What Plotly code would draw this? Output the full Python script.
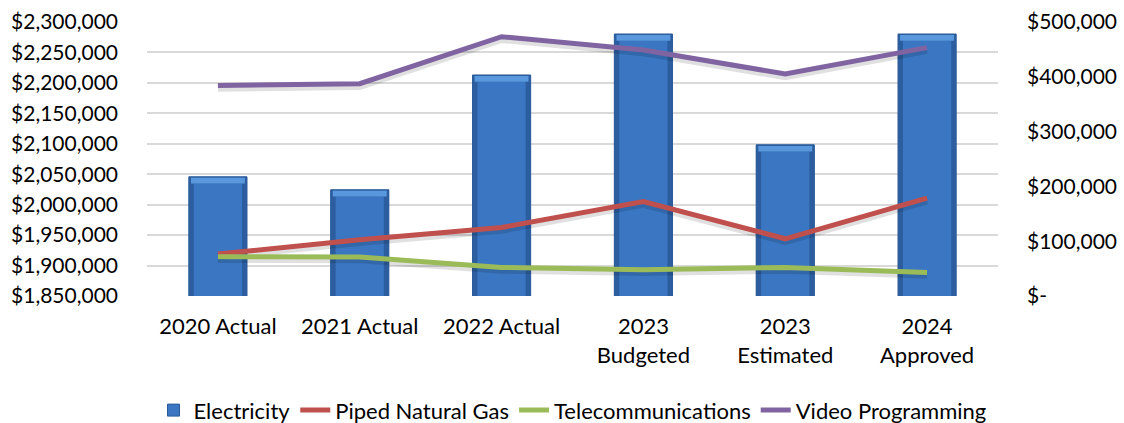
import plotly.graph_objects as go

# Budget years
categories = ["2020 Actual", "2021 Actual", "2022 Actual",
              "2023<br>Budgeted", "2023<br>Estimated", "2024<br>Approved"]

# Electricity (left axis)
electricity = [2045700, 2024400, 2213000, 2280300, 2098200, 2280300]

# Other utilities (right axis)
piped_natural_gas = [76600, 102600, 125000, 172400, 104400, 178600]
telecommunications = [71600, 71000, 52100, 47900, 52100, 43000]
video_programming = [383900, 387500, 473200, 449000, 405200, 453200]

left_ticks = list(range(1850000, 2300001, 50000))
right_ticks = list(range(0, 500001, 100000))
right_ticktext = ["$-" if v == 0 else f"${v:,}" for v in right_ticks]

FONT = "Lato"
Y_MIN = 1850000
BAR_W = 0.41          # bar width in category units
BEVEL = 11000         # height of the light top bevel, left-axis units

fig = go.Figure()

# bevelled bar: dark rim, lighter face, highlighted top edge
fig.add_trace(go.Bar(
    x=categories, y=[v - Y_MIN for v in electricity], base=Y_MIN, width=BAR_W,
    name="Electricity",
    marker=dict(color="#3A76C2", line=dict(color="#2A5A96", width=1)),
    yaxis="y",
))
fig.add_trace(go.Bar(
    x=categories, y=[v - Y_MIN for v in electricity], base=Y_MIN, width=BAR_W,
    marker=dict(color="#2C5E9F", line=dict(width=0)),
    yaxis="y", showlegend=False, hoverinfo="skip",
))
fig.add_trace(go.Bar(
    x=categories, y=[v - Y_MIN - BEVEL for v in electricity], base=Y_MIN,
    width=BAR_W - 0.07,
    marker=dict(color="#3A76C2", line=dict(width=0)),
    yaxis="y", showlegend=False, hoverinfo="skip",
))
fig.add_trace(go.Bar(
    x=categories, y=[BEVEL * 0.85] * len(electricity),
    base=[v - BEVEL for v in electricity], width=BAR_W - 0.03,
    marker=dict(color="#5A98DE", line=dict(width=0)),
    yaxis="y", showlegend=False, hoverinfo="skip",
))

line_series = [
    ("Piped Natural Gas", piped_natural_gas, "#C0504D"),
    ("Telecommunications", telecommunications, "#9BBB59"),
    ("Video Programming", video_programming, "#8064A2"),
]

# soft drop shadow under each line
for name, vals, color in line_series:
    fig.add_trace(go.Scatter(
        x=categories, y=[v - 5000 for v in vals], mode="lines",
        line=dict(color="rgba(0,0,0,0.12)", width=7),
        yaxis="y2", showlegend=False, hoverinfo="skip",
    ))

for name, vals, color in line_series:
    fig.add_trace(go.Scatter(
        x=categories, y=vals, name=name, mode="lines",
        line=dict(color=color, width=5),
        yaxis="y2",
    ))

fig.update_layout(
    width=1124, height=423,
    margin=dict(l=147, r=126, t=22, b=127, autoexpand=False),
    paper_bgcolor="white", plot_bgcolor="white",
    font=dict(family=FONT, size=21, color="black"),
    barmode="overlay",
    showlegend=True,
    legend=dict(orientation="h", x=0.5, xanchor="center",
                yref="container", y=0.03, yanchor="middle",
                font=dict(size=22), traceorder="normal"),
    xaxis=dict(showgrid=False, showline=False, ticks="", ticklabelstandoff=15,
               tickfont=dict(size=22), automargin=False),
    yaxis=dict(range=[1850000, 2300000], tickvals=left_ticks, tickformat="$,.0f",
               showgrid=True, gridcolor="#D9D9D9", gridwidth=1.5,
               zeroline=False, showline=False, ticks="", ticklabelstandoff=28,
               automargin=False),
    yaxis2=dict(range=[0, 500000], tickvals=right_ticks, ticktext=right_ticktext,
                overlaying="y", side="right", showgrid=False, zeroline=False,
                showline=False, ticks="", ticklabelstandoff=28, automargin=False),
)

fig.write_html("out.html")
